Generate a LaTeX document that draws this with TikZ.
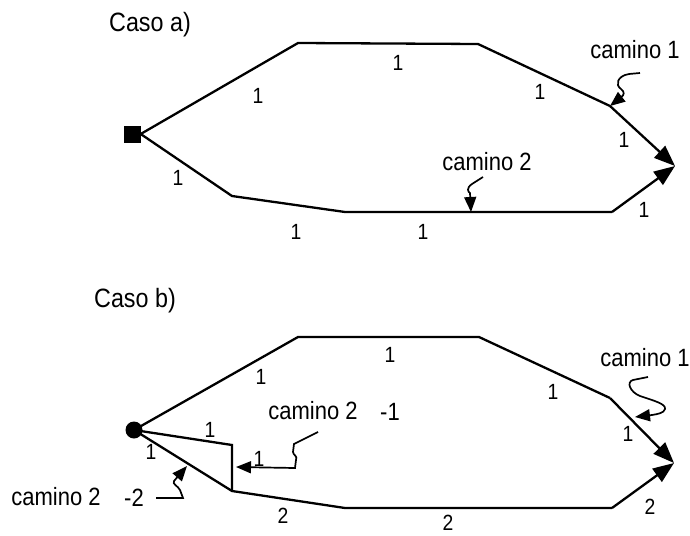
\documentclass[tikz,border=0pt]{standalone}
\usepackage{fontspec}
\setmainfont[FakeStretch=0.88]{Liberation Sans}
\usetikzlibrary{arrows.meta}
\begin{document}
\begin{tikzpicture}[x=1pt,y=-1pt,
  edge/.style={line width=2.3pt,line join=miter},
  arr/.style={edge,-{Triangle[length=21pt,width=16pt]}},
  callout/.style={line width=1.7pt,-{Triangle[length=15pt,width=12pt]}},
  wt/.style={font=\fontsize{22}{22}\selectfont,inner sep=0pt},
  lab/.style={font=\fontsize{25}{25}\selectfont,inner sep=0pt},
  title/.style={font=\fontsize{26.5}{26.5}\selectfont,inner sep=0pt}]
\useasboundingbox (0,0) rectangle (690,535);
% ---------------- Caso a ----------------
\node[title] (ta) at (150,25) {Caso a)};
\node[fill=black,minimum size=17pt,inner sep=0pt] (sa) at (132,134) {};
\coordinate (a1) at (298,43);
\coordinate (a2) at (478,44);
\coordinate (a3) at (610,106);
\coordinate (ea) at (675,166);
\coordinate (b1) at (232,196);
\coordinate (b2) at (345,212);
\coordinate (b3) at (612,212);
\coordinate (a4) at (471,212);
\draw[edge] (sa.east) -- (a1) -- (a2) -- (a3);
\draw[arr] (a3) -- (ea);
\draw[edge] (sa.east) -- (b1) -- (b2) -- (b3);
\draw[arr] (b3) -- (ea);
\node[wt] at (258,96) {1};
\node[wt] at (398,63) {1};
\node[wt] at (540,92) {1};
\node[wt] at (624,140) {1};
\node[wt] at (178,178) {1};
\node[wt] at (296,232) {1};
\node[wt] at (423,232) {1};
\node[wt] at (644,210) {1};
\node[lab] (ca1) at (635,50) {camino 1};
\node[lab] (ca2) at (487,162) {camino 2};
\draw[callout] (640,73) -- (629,74) .. controls (617,76) and (615,85) .. (621,89)
  .. controls (625,92) and (624,95) .. (a3);
\draw[callout] (483,177) -- (472,184) .. controls (466,188) and (468,192) .. (470,193) -- (a4);
% ---------------- Caso b ----------------
\node[title] (tb) at (135,301) {Caso b)};
\node[fill=black,circle,minimum size=17pt,inner sep=0pt] (sb) at (134,430) {};
\coordinate (c1) at (298,337);
\coordinate (c2) at (479,337);
\coordinate (c3) at (610,398);
\coordinate (eb) at (674,463);
\coordinate (d1) at (232,491);
\coordinate (d2) at (345,508);
\coordinate (d3) at (612,508);
\coordinate (m1) at (232,445);
\coordinate (p1) at (236,467);
\coordinate (p2) at (187,466);
\coordinate (p3) at (635,417);
\draw[edge] (sb.center) -- (c1) -- (c2) -- (c3);
\draw[arr] (c3) -- (eb);
\draw[edge] (sb.center) -- (d1) -- (d2) -- (d3);
\draw[arr] (d3) -- (eb);
\draw[edge] (sb.center) -- (m1) -- (d1);
\node[wt] at (261,377) {1};
\node[wt] at (390,355) {1};
\node[wt] at (553,392) {1};
\node[wt] at (628,434) {1};
\node[wt] at (210,430) {1};
\node[wt] at (151,452) {1};
\node[wt] at (259,459) {1};
\node[wt] at (283,516) {2};
\node[wt] at (448,523) {2};
\node[wt] at (650,507) {2};
\node[lab] (cb2) at (313,411) {camino 2};
\node[lab] (m1l) at (390,412) {-1};
\node[lab] (cb1) at (645,358) {camino 1};
\node[lab] (cb3) at (56,497) {camino 2};
\node[lab] (m2l) at (134,498) {-2};
\draw[callout] (318,432) -- (294,444) -- (293,452) .. controls (293,455) and (298,456) .. (296,460)
  -- (295,468) -- (p1);
\draw[callout] (156,498) -- (183,498) -- (180,490) .. controls (178,486) and (172,484) .. (174,481)
  -- (p2);
\draw[callout] (648,377) -- (633,380) .. controls (626,382) and (630,392) .. (640,396)
  .. controls (655,401) and (666,404) .. (665,409) .. controls (664,413) and (658,414) .. (652,415) -- (p3);
\end{tikzpicture}
\end{document}
